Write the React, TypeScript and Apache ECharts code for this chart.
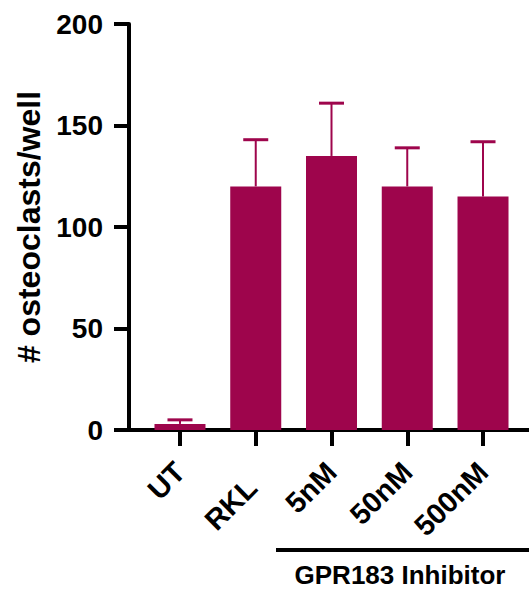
import React, { useEffect, useRef } from "react";
import * as echarts from "echarts";

const categories = ["UT", "RKL", "5nM", "50nM", "500nM"];
const means = [3, 120, 135, 120, 115];
const upper = [5, 143, 161, 139, 142];
const yTicks = [0, 50, 100, 150, 200];
const yTitle = "# osteoclasts/well";
const groupLabel = "GPR183 Inhibitor";

const BAR = "#9E054C";
const FONT = "'Liberation Sans', Arial, Helvetica, sans-serif";

export default function App() {
  const ref = useRef<HTMLDivElement>(null);
  useEffect(() => {
    document.body.style.margin = "0";
    const chart = echarts.init(ref.current!, null, { renderer: "svg" });
    const idx = categories.map((_, i) => i);
    const labelFont = { color: "#000", fontSize: 29, fontWeight: "bold", fontFamily: FONT };
    chart.setOption({
      animation: false,
      grid: { left: 129, right: 0, top: 24, bottom: 160, containLabel: false },
      xAxis: {
        type: "value",
        min: -0.673,
        max: 4.607,
        splitLine: { show: false },
        axisLine: { show: true, onZero: false, lineStyle: { color: "#000", width: 4 } },
        axisTick: { show: true, customValues: idx, length: 16, lineStyle: { color: "#000", width: 4 } },
        axisLabel: {
          show: true,
          customValues: idx,
          rotate: 45,
          margin: 37,
          formatter: (v: number) => {
            const i = Math.round(v);
            return i === 1 ? `{shift|${categories[i]}}` : categories[i];
          },
          ...labelFont,
          rich: { shift: { ...labelFont, padding: [17, 14, 0, 0] } },
        },
      },
      yAxis: {
        type: "value",
        min: 0,
        max: 200,
        interval: 50,
        splitLine: { show: false },
        axisLine: { show: true, onZero: false, lineStyle: { color: "#000", width: 4 } },
        axisTick: { show: true, length: 15, lineStyle: { color: "#000", width: 4 } },
        axisLabel: {
          margin: 26,
          color: "#000",
          fontSize: 28,
          fontWeight: "bold",
          fontFamily: FONT,
          customValues: yTicks,
        },
        name: yTitle,
        nameLocation: "middle",
        nameRotate: 90,
        nameGap: 84,
        nameTextStyle: { color: "#000", fontSize: 32, fontWeight: "bold", fontFamily: FONT },
      },
      series: [
        {
          type: "bar",
          data: means.map((m, i) => [i, m]),
          barWidth: 51,
          itemStyle: { color: BAR },
          z: 2,
        },
        {
          type: "custom",
          data: means.map((m, i) => [i, m, upper[i]]),
          encode: { x: 0, y: [1, 2] },
          z: 3,
          renderItem: (params: any, api: any) => {
            const x = api.value(0);
            const p0 = api.coord([x, api.value(1)]);
            const p1 = api.coord([x, api.value(2)]);
            return {
              type: "group",
              children: [
                {
                  type: "line",
                  shape: { x1: p0[0], y1: p0[1], x2: p1[0], y2: p1[1] },
                  style: { stroke: BAR, lineWidth: 2 },
                },
                {
                  type: "line",
                  shape: { x1: p1[0] - 12.5, y1: p1[1], x2: p1[0] + 12.5, y2: p1[1] },
                  style: { stroke: BAR, lineWidth: 3 },
                },
              ],
            };
          },
        },
      ],
      graphic: [
        {
          type: "line",
          shape: { x1: 276, y1: 550, x2: 529, y2: 550 },
          style: { stroke: "#000", lineWidth: 4 },
        },
        {
          type: "text",
          x: 400,
          y: 575,
          style: {
            text: groupLabel,
            fill: "#000",
            fontSize: 26,
            fontWeight: "bold",
            fontFamily: FONT,
            align: "center",
            verticalAlign: "middle",
          },
        },
      ],
    });
    return () => chart.dispose();
  }, []);
  return <div ref={ref} style={{ width: 529, height: 590 }} />;
}
